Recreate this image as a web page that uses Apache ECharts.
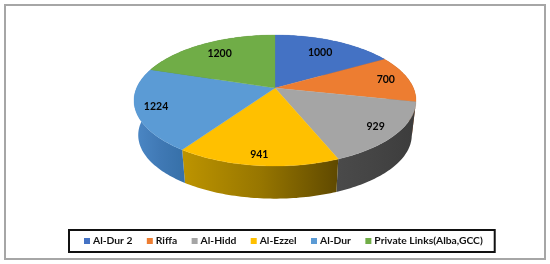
<!DOCTYPE html>
<html><head><meta charset="utf-8">
<style>html,body{margin:0;padding:0;background:#fff}#c{width:550px;height:264px}</style>
<script src="https://cdn.jsdelivr.net/npm/echarts@6/dist/echarts.min.js"></script>
</head><body><div id="c"></div>
<script>
const categories = ['Al-Dur 2','Riffa','Al-Hidd','Al-Ezzel','Al-Dur','Private Links(Alba,GCC)'];
const values = [1000,700,929,941,1224,1200];
const topColors = ['#4472c4','#ed7d31','#a5a5a5','#ffc000','#5b9bd5','#70ad47'];
const wallLeft = ['#2f5597','#a5561f','#4a4a4a','#bd9400','#4c88c6','#4e7a31'];
const wallMid = ['#2f5597','#a5561f','#444444','#977600','#4079b5','#4e7a31'];
const wallRight = ['#2f5597','#a5561f','#3c3c3c','#5f4900','#3670a8','#4e7a31'];
const labelFrac = [0.73,0.83,0.85,0.88,0.86,0.76];

const cx=275, cy=88, A=138.4, B=63.1, P=0.191, BASE_SCALE=0.97, DEPTH=35;
const total = values.reduce((a,b)=>a+b,0);
const starts = values.map((v,i)=>values.slice(0,i).reduce((a,b)=>a+b,0)/total*Math.PI*2);
const proj = (t,f)=>{const w=1+P*f*Math.cos(t);return [cx+A*f*Math.sin(t)/w, cy-B*f*Math.cos(t)/w];};
const baseP = (t)=>{const p=proj(t,1);return [cx+(p[0]-cx)*BASE_SCALE, cy+(p[1]-cy)*BASE_SCALE+DEPTH];};
const arc = (fn,a,b)=>{const n=Math.max(4,Math.ceil((b-a)/0.02));const r=[];for(let k=0;k<=n;k++)r.push(fn(a+(b-a)*k/n));return r;};

function renderSlice(i){
  return function(params, api){
    const a=starts[i], b=a+api.value(0)/total*Math.PI*2;
    const topArc=arc(t=>proj(t,1),a,b);
    const baseArc=arc(baseP,a,b);
    const wall={type:'polygon',z2:1,shape:{points:topArc.concat(baseArc.slice().reverse())},
      style:{fill:new echarts.graphic.LinearGradient(0,0,1,0,[
        {offset:0,color:wallLeft[i]},{offset:0.5,color:wallMid[i]},{offset:1,color:wallRight[i]}])}};
    const face={type:'polygon',z2:2,shape:{points:[[cx,cy]].concat(topArc)},
      style:{fill:topColors[i],stroke:topColors[i],lineWidth:0.3}};
    const mid=(a+b)/2, lp=proj(mid,labelFrac[i]);
    const label={type:'text',z2:3,x:lp[0],y:lp[1],
      style:{text:String(api.value(0)),fill:'#050505',font:'bold 10.5px Lato',align:'center',verticalAlign:'middle'}};
    return {type:'group',children:[wall,face,label]};
  };
}

const chart=echarts.init(document.getElementById('c'),null,{renderer:'canvas'});
chart.setOption({
  animation:false,
  backgroundColor:'#fff',
  graphic:[{type:'rect',silent:true,shape:{x:5,y:5,width:540,height:254},style:{fill:'none',stroke:'#a6a6a6',lineWidth:2}}],
  legend:{
    data:categories,left:69,top:230,orient:'horizontal',
    padding:[6,12,6,15],itemGap:14.4,itemWidth:6,itemHeight:6,icon:'rect',
    borderColor:'#111',borderWidth:2,
    textStyle:{color:'#111',fontFamily:'Lato',fontWeight:'bold',fontSize:10.3,padding:[0,0,0,-2]}
  },
  series:categories.map((name,i)=>({
    type:'custom',name,coordinateSystem:'none',silent:true,
    itemStyle:{color:topColors[i]},
    data:[[values[i]]],
    renderItem:renderSlice(i)
  }))
});
</script></body></html>
